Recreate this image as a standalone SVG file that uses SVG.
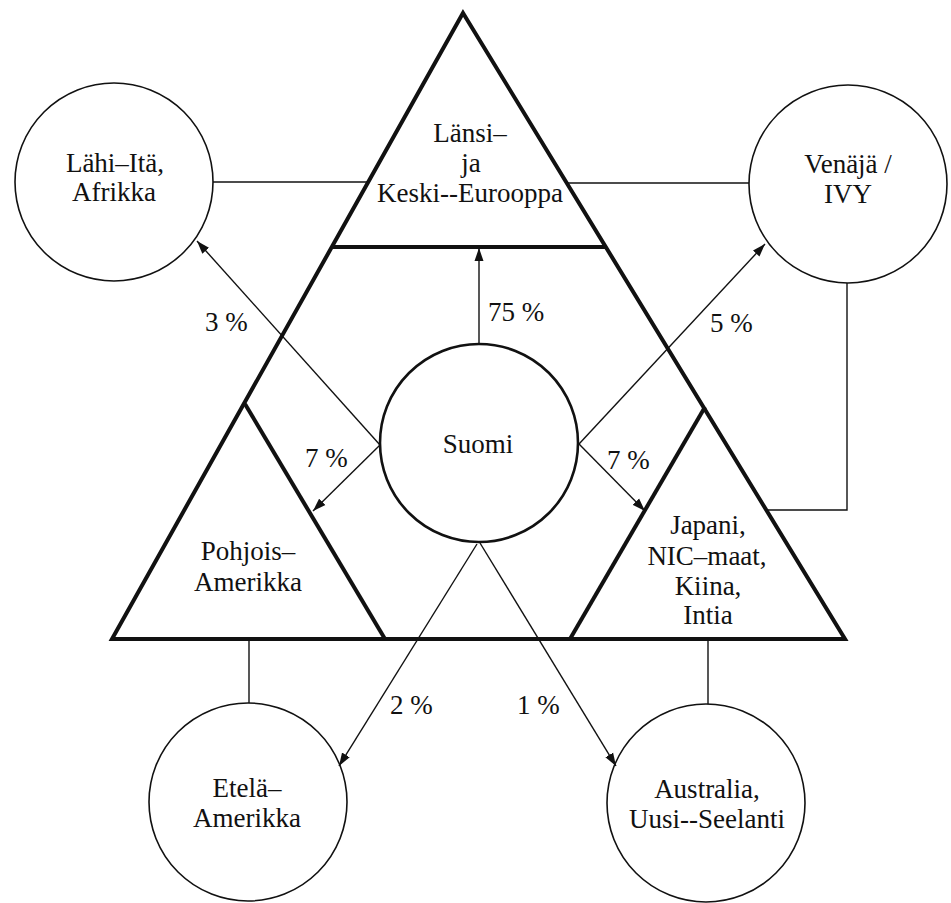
<svg xmlns="http://www.w3.org/2000/svg" width="951" height="903" viewBox="0 0 951 903">
<style>
text{font-size:27px;fill:#111;text-anchor:middle}
.pct{text-anchor:start}
.thick{fill:none;stroke:#111;stroke-width:4;stroke-linejoin:miter}
.circ{fill:none;stroke:#111;stroke-width:1.6}
.ln{fill:none;stroke:#111;stroke-width:1.4}
</style>
<defs>
<marker id="ah" markerUnits="userSpaceOnUse" markerWidth="14" markerHeight="10" refX="13" refY="5" orient="auto">
<path d="M0,0.5 L13,5 L0,9.5 z" fill="#111"/>
</marker>
</defs>
<rect width="951" height="903" fill="#fff"/>
<g font-family="'Liberation Serif', 'DejaVu Serif', serif">

<g id="big-triangle">
<path class="thick" d="M463,13 L845,639 L112,639 Z"/>
</g>

<g id="lansi">
<path class="thick" d="M332,247 L607,247"/>
<text x="470" y="142">Länsi–</text>
<text x="471" y="172">ja</text>
<text x="470" y="202">Keski--Eurooppa</text>
</g>

<g id="pohjois">
<path class="thick" d="M245,404 L385,639"/>
<text x="248" y="560">Pohjois–</text>
<text x="248" y="591">Amerikka</text>
</g>

<g id="japani">
<path class="thick" d="M705,407 L570,639"/>
<text x="708" y="534">Japani,</text>
<text x="707" y="565">NIC–maat,</text>
<text x="708" y="595">Kiina,</text>
<text x="708" y="624">Intia</text>
</g>

<g id="lahi">
<circle class="circ" cx="114" cy="182" r="99"/>
<text x="115" y="172">Lähi–Itä,</text>
<text x="114" y="201">Afrikka</text>
</g>

<g id="venaja">
<circle class="circ" cx="848" cy="184" r="99"/>
<text x="848" y="173">Venäjä /</text>
<text x="848" y="203">IVY</text>
</g>

<g id="suomi">
<circle cx="479" cy="443" r="99" fill="none" stroke="#111" stroke-width="2.6"/>
<text x="478" y="453">Suomi</text>
</g>

<g id="etela">
<circle class="circ" cx="248" cy="802" r="99"/>
<text x="247" y="797">Etelä–</text>
<text x="247" y="827">Amerikka</text>
</g>

<g id="australia">
<circle class="circ" cx="706" cy="803" r="99"/>
<text x="707" y="798">Australia,</text>
<text x="707" y="828">Uusi--Seelanti</text>
</g>

<g id="connectors">
<path class="ln" d="M213,182 L368,182"/>
<path class="ln" d="M567,183 L749,183"/>
<path class="ln" d="M847,283 L847,510 L767,510"/>
<path class="ln" d="M249,639 L249,703"/>
<path class="ln" d="M708,639 L708,704"/>
<path class="ln" d="M479,343 L479,248" marker-end="url(#ah)"/>
<path class="ln" d="M380,445 L197,241" marker-end="url(#ah)"/>
<path class="ln" d="M380,445 L313,511" marker-end="url(#ah)"/>
<path class="ln" d="M579,444 L765,244" marker-end="url(#ah)"/>
<path class="ln" d="M579,444 L645,511" marker-end="url(#ah)"/>
<path class="ln" d="M477,544 L339,766" marker-end="url(#ah)"/>
<path class="ln" d="M480,543 L616,766" marker-end="url(#ah)"/>
</g>

<g id="labels">
<text class="pct" x="488" y="321">75 %</text>
<text class="pct" x="205" y="331">3 %</text>
<text class="pct" x="305" y="467">7 %</text>
<text class="pct" x="710" y="332">5 %</text>
<text class="pct" x="607" y="469">7 %</text>
<text class="pct" x="390" y="714">2 %</text>
<text class="pct" x="517" y="714">1 %</text>
</g>
</g>
</svg>
